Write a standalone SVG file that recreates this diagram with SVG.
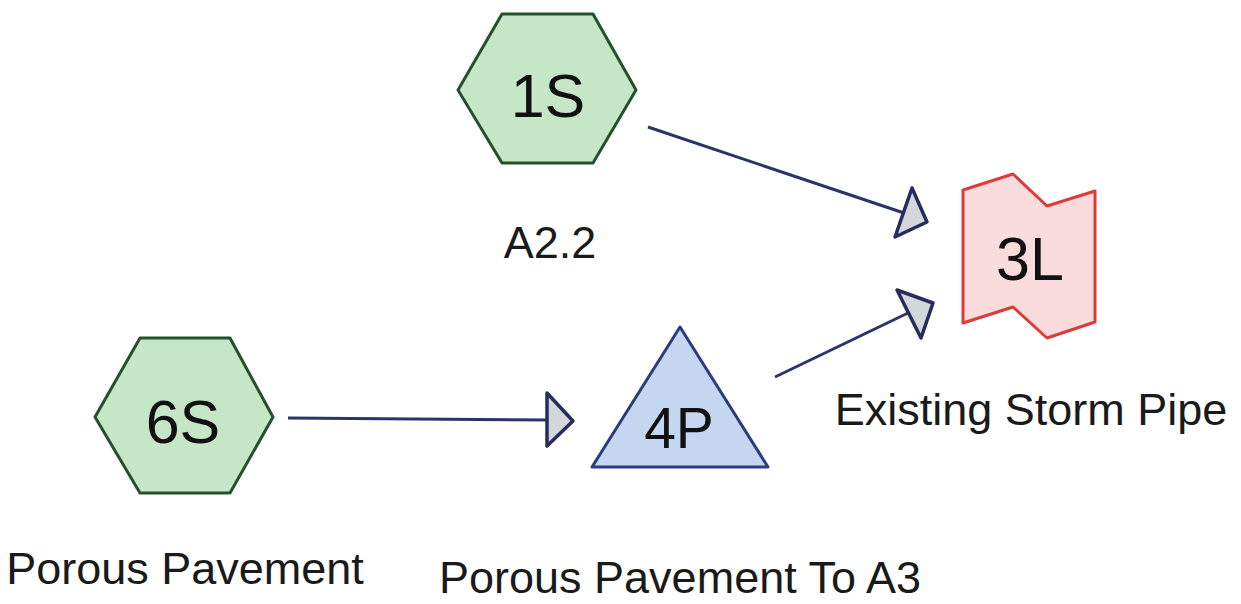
<svg xmlns="http://www.w3.org/2000/svg" width="1241" height="604" viewBox="0 0 1241 604">
<style>
.hex{fill:#c6e6c8;stroke:#24502e;stroke-width:3;stroke-linejoin:round}
.pond{fill:#c4d6f0;stroke:#2c3c7e;stroke-width:3;stroke-linejoin:round}
.link{fill:#fbdcdc;stroke:#dd3b3b;stroke-width:3;stroke-linejoin:round}
.edge{fill:none;stroke:#2b3468;stroke-width:3}
.head{fill:#d3d7da;stroke:#242d5e;stroke-width:3.5;stroke-linejoin:round}
.nt{font-family:"Liberation Sans",Arial,sans-serif;font-size:61px;fill:#111;text-anchor:middle}
.lt{font-family:"Liberation Sans",Arial,sans-serif;font-size:45px;fill:#1a1a1a;text-anchor:middle}
</style>
<rect width="1241" height="604" fill="#ffffff"/>
<g id="connectors">
<line class="edge" x1="648" y1="127" x2="904" y2="213"/>
<polygon class="head" points="912,188 927,222 895,237"/>
<line class="edge" x1="775" y1="377" x2="908" y2="313"/>
<polygon class="head" points="897,290 933,303 921,338"/>
<line class="edge" x1="288" y1="418" x2="548" y2="420"/>
<polygon class="head" points="547,393 573,421 547,446"/>
</g>
<g id="node-1S">
<polygon class="hex" points="458,90 502,14 593,14 636,90 593,163 502,163"/>
<text class="nt" x="548" y="117">1S</text>
<text class="lt" x="550" y="258">A2.2</text>
</g>
<g id="node-6S">
<polygon class="hex" points="95,417 140,338 230,338 273,417 230,493 140,493"/>
<text class="nt" x="183" y="443">6S</text>
<text class="lt" x="185" y="584">Porous Pavement</text>
</g>
<g id="node-4P">
<polygon class="pond" points="680,327 768,467 592,467"/>
<text class="nt" x="679" y="448" style="font-size:57px">4P</text>
<text class="lt" x="680" y="593">Porous Pavement To A3</text>
</g>
<g id="node-3L">
<polygon class="link" points="963,190 1013,174 1047,206 1095,191 1095,322 1047,338 1013,307 963,323"/>
<text class="nt" x="1030" y="280">3L</text>
<text class="lt" x="1031" y="425">Existing Storm Pipe</text>
</g>
</svg>
